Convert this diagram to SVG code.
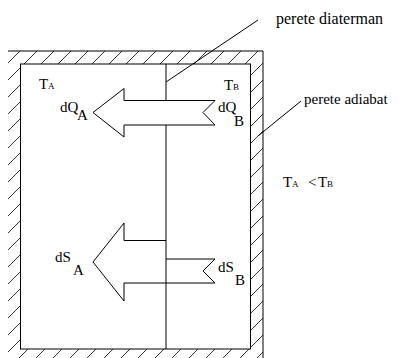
<svg xmlns="http://www.w3.org/2000/svg" width="400" height="358" viewBox="0 0 400 358">
<style>
text{font-family:"Liberation Serif","Times New Roman","DejaVu Serif",serif;fill:#000}
.ln{stroke:#000;stroke-width:1;fill:none}
.lbl{font-size:16px}
.big{font-size:15px}
.t{font-size:15px}
.s{font-size:9px}
</style>
<defs>
<pattern id="hatch" patternUnits="userSpaceOnUse" width="17" height="17" x="3" y="0">
<path d="M0,17 L17,0 M-4,4 L4,-4 M13,21 L21,13" stroke="#000" stroke-width="0.8"/>
</pattern>
</defs>
<g id="wall">
<path d="M8,51 H263 V362 H8 Z M20.5,64 V349 H250.5 V64 Z" fill="url(#hatch)" fill-rule="evenodd"/>
<path class="ln" d="M8,51 H263 V358"/>
<rect class="ln" x="20.5" y="64" width="230" height="285"/>
</g>
<g id="connectors">
<line class="ln" x1="166" y1="64" x2="166" y2="349"/>
<line class="ln" x1="166" y1="82" x2="258" y2="20"/>
<line class="ln" x1="258" y1="136" x2="301" y2="101"/>
</g>
<g id="arrow-dQ">
<polygon points="93,112.5 124,88.5 124,100.5 215,100.5 203,112.5 215,125 124,125 124,137" fill="#fff" stroke="#000" stroke-width="1"/>
</g>
<g id="arrow-dS">
<polyline class="ln" points="166,240.5 124,240.5 124,223 93,262 124,301 124,283 215,283 203,271 215,259 166,259"/>
</g>
<g id="labels" font-family="Liberation Serif, Times New Roman, DejaVu Serif, serif">
<text class="lbl" x="276" y="24">perete diaterman</text>
<text class="lbl" x="304" y="104" style="font-size:15px">perete adiabat</text>
<text class="t" x="39" y="89">T</text><text class="s" x="48" y="89">A</text>
<text class="t" x="224" y="90">T</text><text class="s" x="233" y="90">B</text>
<text class="big" x="60" y="112">dQ</text><text class="big" x="77" y="120">A</text>
<text class="big" x="218" y="112">dQ</text><text class="big" x="234" y="126">B</text>
<text class="big" x="55" y="262">dS</text><text class="big" x="73" y="275">A</text>
<text class="big" x="218" y="272">dS</text><text class="big" x="235" y="285">B</text>
<text class="t" x="283" y="187">T</text><text class="s" x="292" y="187">A</text>
<text class="t" x="308" y="187">&lt;</text>
<text class="t" x="318" y="187">T</text><text class="s" x="327" y="187">B</text>
</g>
</svg>
